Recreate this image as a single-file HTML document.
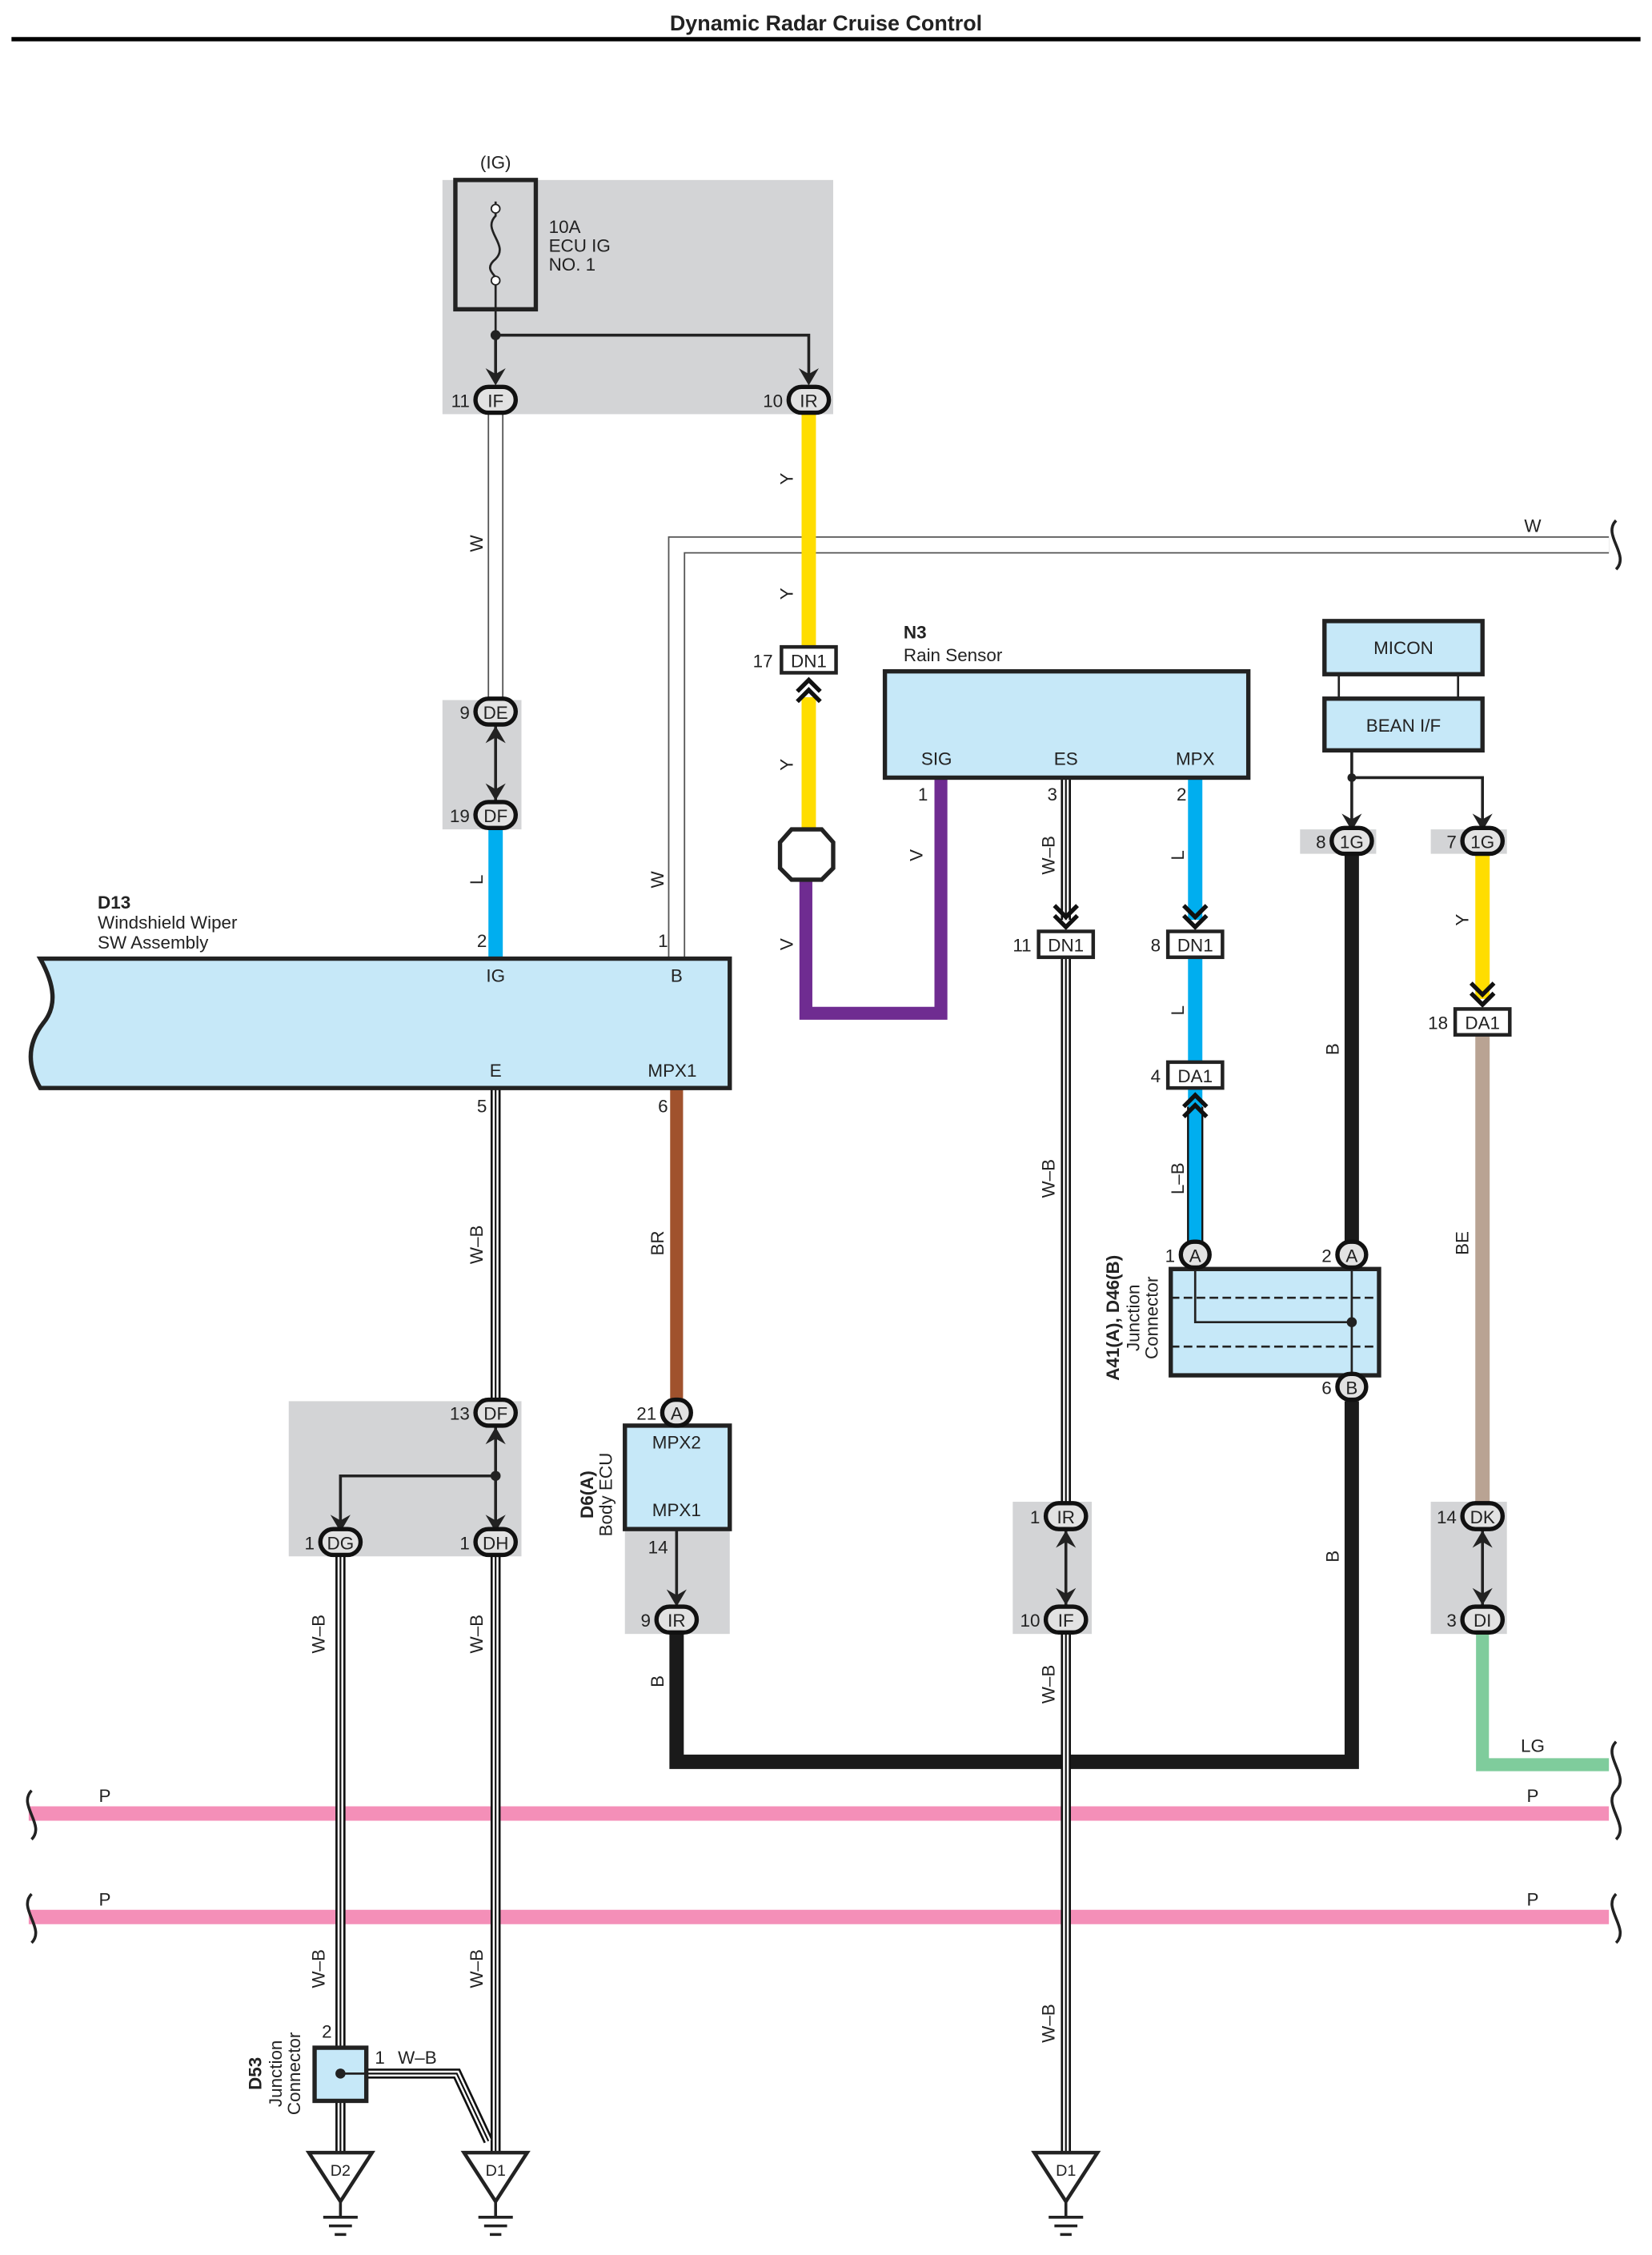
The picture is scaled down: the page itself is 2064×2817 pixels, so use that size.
<!DOCTYPE html>
<html><head><meta charset="utf-8"><style>
html,body{margin:0;padding:0;background:#fff}
svg{display:block}
text{font-family:"Liberation Sans",sans-serif;font-size:12.5px;fill:#222}
.c{text-anchor:middle}
.r{text-anchor:end}
.b{font-weight:bold}
</style></head><body>
<svg width="2064" height="2817" viewBox="0 0 1150 1569" xmlns="http://www.w3.org/2000/svg">
<defs>
<g id="dn"><path d="M-7,0 L0,-7 L7,0 M-7,-6 L0,-13 L7,-6" fill="none" stroke="#111" stroke-width="3"/></g>
</defs>
<text x="575" y="21" class="c b" style="font-size:15px">Dynamic Radar Cruise Control</text>
<line x1="8" y1="27" x2="1142" y2="27" stroke="#000" stroke-width="3"/>

<!-- gray boxes -->
<g fill="#d3d4d6">
<rect x="308" y="125" width="272" height="163"/>
<rect x="308" y="487" width="55" height="90"/>
<rect x="201" y="975" width="162" height="108"/>
<rect x="435" y="1064" width="73" height="73"/>
<rect x="705" y="1045" width="55" height="92"/>
<rect x="996" y="1045" width="53" height="92"/>
<rect x="905" y="577" width="53" height="17"/>
<rect x="996" y="577" width="53" height="17"/>
</g>

<!-- fuse -->
<text x="345" y="117" class="c">(IG)</text>
<rect x="317" y="125" width="56" height="90" fill="none" stroke="#222" stroke-width="3"/>
<path d="M345,140 V150 C335,160 355,170 345,180 C335,188 348,192 345,195 V233" fill="none" stroke="#222" stroke-width="1.5"/>
<circle cx="345" cy="145" r="3" fill="#fff" stroke="#222"/><circle cx="345" cy="195" r="3" fill="#fff" stroke="#222"/>
<text x="382" y="162">10A</text><text x="382" y="175">ECU IG</text><text x="382" y="188">NO. 1</text>
<path d="M345,233 V262 M345,233 H563 V262" fill="none" stroke="#222" stroke-width="2"/>
<circle cx="345" cy="233" r="3.5" fill="#222"/>
<path d="M338,256 L345,268 L352,256 L345,260Z M556,256 L563,268 L570,256 L563,260Z" fill="#222"/>

<!-- wires -->
<g fill="none" stroke-linejoin="miter">
<!-- W double lines -->
<path d="M345,288 V487" stroke="#555" stroke-width="11"/><path d="M345,288 V487" stroke="#fff" stroke-width="9"/>
<path d="M471,667 V379 H1120" stroke="#555" stroke-width="12"/><path d="M471,667 V379 H1120" stroke="#fff" stroke-width="10"/>
<path d="M345,577 V667" stroke="#00aeef" stroke-width="10"/>
<path d="M563,288 V450 M563,485 V578" stroke="#ffdd00" stroke-width="10"/>
<path d="M561,612 V705 H655 V541" stroke="#6f2c91" stroke-width="9"/>
<path d="M471,757 V975" stroke="#a0522d" stroke-width="9"/>
<path d="M471,1137 V1226 H941 V975 M941,595 V873" stroke="#1a1a1a" stroke-width="10"/>
<path d="M832,541 V640 M832,667 V740 M832,757 V866" stroke="#00aeef" stroke-width="10"/>
<path d="M827,770 V866 M837,770 V866" stroke="#111" stroke-width="1.3"/>
<path d="M1032,595 V695" stroke="#ffdd00" stroke-width="10"/>
<path d="M1032,721 V1045" stroke="#b9a393" stroke-width="10"/>
<path d="M1032,1137 V1228 H1120" stroke="#7fcc9c" stroke-width="9"/>
<path d="M20,1262 H1120 M20,1334 H1120" stroke="#f48fb8" stroke-width="10"/>
<!-- W-B -->
<g id="wb">
<path d="M345,757 V975 M345,1083 V1498 M237,1083 V1425 M237,1462 V1498 M742,541 V640 M742,667 V1045 M742,1137 V1498 M255,1443 H318 L340,1490" stroke="#111" stroke-width="7"/>
<path d="M345,757 V975 M345,1083 V1498 M237,1083 V1425 M237,1462 V1498 M742,541 V640 M742,667 V1045 M742,1137 V1498 M255,1443 H318 L340,1490" stroke="#fff" stroke-width="4"/>
<path d="M345,757 V975 M345,1083 V1498 M237,1083 V1425 M237,1462 V1498 M742,541 V640 M742,667 V1045 M742,1137 V1498 M255,1443 H318 L340,1490" stroke="#111" stroke-width="1.2"/>
</g>
</g>
<!-- pink redrawn over wb crossings -->
<path d="M345,1256 V1268 M237,1256 V1268 M742,1256 V1268 M345,1328 V1340 M237,1328 V1340 M742,1328 V1340" stroke="#fff" stroke-width="9" opacity="0"/>

<!-- break squiggles -->
<g fill="none" stroke="#222" stroke-width="2">
<path d="M1125,362 C1115,372 1135,386 1125,396"/>
<path d="M1125,1212 C1115,1222 1135,1236 1125,1246"/>
<path d="M1125,1246 C1115,1256 1135,1270 1125,1280"/>
<path d="M1125,1318 C1115,1328 1135,1342 1125,1352"/>
<path d="M22,1246 C12,1256 32,1270 22,1280"/>
<path d="M22,1318 C12,1328 32,1342 22,1352"/>
</g>

<!-- D13 -->
<path d="M28,667 H508 V757 H28 C18,740 20,725 30,712 C40,700 38,685 28,667Z" fill="#c6e8f8" stroke="#222" stroke-width="3"/>
<text x="68" y="632" class="b">D13</text><text x="68" y="646">Windshield Wiper</text><text x="68" y="660">SW Assembly</text>
<text x="345" y="683" class="c">IG</text><text x="471" y="683" class="c">B</text>
<text x="345" y="749" class="c">E</text><text x="468" y="749" class="c">MPX1</text>
<text x="339" y="659" class="r">2</text><text x="465" y="659" class="r">1</text>
<text x="339" y="774" class="r">5</text><text x="465" y="774" class="r">6</text>

<!-- N3 -->
<rect x="616" y="467" width="253" height="74" fill="#c6e8f8" stroke="#222" stroke-width="3"/>
<text x="629" y="444" class="b">N3</text><text x="629" y="460">Rain Sensor</text>
<text x="652" y="532" class="c">SIG</text><text x="742" y="532" class="c">ES</text><text x="832" y="532" class="c">MPX</text>
<text x="646" y="557" class="r">1</text><text x="736" y="557" class="r">3</text><text x="826" y="557" class="r">2</text>
<path d="M551,577 L572,577 L580,586 L580,604 L572,612 L551,612 L543,604 L543,586Z" fill="#fff" stroke="#222" stroke-width="3"/>

<!-- MICON / BEAN -->
<rect x="922" y="432" width="110" height="37" fill="#c6e8f8" stroke="#222" stroke-width="3"/>
<rect x="922" y="486" width="110" height="36" fill="#c6e8f8" stroke="#222" stroke-width="3"/>
<text x="977" y="455" class="c">MICON</text><text x="977" y="509" class="c">BEAN I/F</text>
<path d="M932,469 V486 M1015,469 V486" stroke="#222" stroke-width="1.5"/>
<path d="M941,522 V570 M941,541 H1032 V570" fill="none" stroke="#222" stroke-width="2"/>
<circle cx="941" cy="541" r="3" fill="#222"/>
<path d="M934,566 L941,578 L948,566 L941,570Z M1025,566 L1032,578 L1039,566 L1032,570Z" fill="#222"/>

<!-- Junction connector A41 -->
<rect x="815" y="883" width="145" height="74" fill="#c6e8f8" stroke="#222" stroke-width="3"/>
<path d="M815,903 H960 M815,937 H960" stroke="#222" stroke-width="1.5" stroke-dasharray="6,3"/>
<path d="M832,883 V920 H941 M941,883 V957" fill="none" stroke="#222" stroke-width="1.5"/>
<circle cx="941" cy="920" r="3.5" fill="#222"/>
<text transform="translate(779,917) rotate(-90)" class="c b">A41(A), D46(B)</text>
<text transform="translate(793,917) rotate(-90)" class="c">Junction</text>
<text transform="translate(806,917) rotate(-90)" class="c">Connector</text>

<!-- Body ECU -->
<rect x="435" y="992" width="73" height="72" fill="#c6e8f8" stroke="#222" stroke-width="3"/>
<text x="471" y="1008" class="c">MPX2</text><text x="471" y="1055" class="c">MPX1</text>
<text transform="translate(413,1040) rotate(-90)" class="c b">D6(A)</text>
<text transform="translate(426,1040) rotate(-90)" class="c">Body ECU</text>
<text x="465" y="1081" class="r">14</text>
<path d="M471,1064 V1112" stroke="#222" stroke-width="2"/>
<path d="M464,1106 L471,1118 L478,1106 L471,1110Z" fill="#222"/>

<!-- D53 -->
<rect x="219" y="1425" width="36" height="37" fill="#c6e8f8" stroke="#222" stroke-width="3"/>
<circle cx="237" cy="1443" r="3.5" fill="#222"/><path d="M237,1443 H255" stroke="#222" stroke-width="1.5"/>
<text transform="translate(182,1443) rotate(-90)" class="c b">D53</text>
<text transform="translate(196,1443) rotate(-90)" class="c">Junction</text>
<text transform="translate(209,1443) rotate(-90)" class="c">Connector</text>
<text x="231" y="1418" class="r">2</text><text x="261" y="1436">1</text><text x="277" y="1436">W–B</text>

<!-- DF junction -->
<path d="M345,993 V1060 M345,1027 H237 V1060" fill="none" stroke="#222" stroke-width="2"/>
<circle cx="345" cy="1027" r="3.5" fill="#222"/>
<path d="M338,1054 L345,1066 L352,1054 L345,1058Z M230,1054 L237,1066 L244,1054 L237,1058Z M338,1005 L345,993 L352,1005 L345,1001Z" fill="#222"/>
<!-- DE/DF arrows -->
<path d="M345,505 V557" stroke="#222" stroke-width="2"/>
<path d="M338,517 L345,505 L352,517 L345,513Z M338,545 L345,557 L352,545 L345,549Z" fill="#222"/>
<path d="M742,1065 V1117" stroke="#222" stroke-width="2"/>
<path d="M735,1077 L742,1065 L749,1077 L742,1073Z M735,1105 L742,1117 L749,1105 L742,1109Z" fill="#222"/>
<path d="M1032,1065 V1117" stroke="#222" stroke-width="2"/>
<path d="M1025,1077 L1032,1065 L1039,1077 L1032,1073Z M1025,1105 L1032,1117 L1039,1105 L1032,1109Z" fill="#222"/>

<!-- chevrons -->
<g fill="none" stroke="#111" stroke-width="3">
<path d="M555,481 L563,473 L571,481 M555,488 L563,480 L571,488"/>
<path d="M734,630 L742,638 L750,630 M734,637 L742,645 L750,637"/>
<path d="M824,630 L832,638 L840,630 M824,637 L832,645 L840,637"/>
<path d="M824,770 L832,762 L840,770 M824,777 L832,769 L840,777"/>
<path d="M1024,684 L1032,692 L1040,684 M1024,691 L1032,699 L1040,691"/>
</g>

<!-- rect connectors -->
<g fill="#fff" stroke="#222" stroke-width="2.5">
<rect x="544" y="450" width="38" height="18"/>
<rect x="723" y="648" width="38" height="18"/>
<rect x="813" y="648" width="38" height="18"/>
<rect x="813" y="739" width="38" height="18"/>
<rect x="1013" y="702" width="38" height="18"/>
</g>
<text x="563" y="464" class="c">DN1</text><text x="538" y="464" class="r">17</text>
<text x="742" y="662" class="c">DN1</text><text x="718" y="662" class="r">11</text>
<text x="832" y="662" class="c">DN1</text><text x="808" y="662" class="r">8</text>
<text x="832" y="753" class="c">DA1</text><text x="808" y="753" class="r">4</text>
<text x="1032" y="716" class="c">DA1</text><text x="1008" y="716" class="r">18</text>

<!-- oval connectors -->
<g fill="#e2e2e2" stroke="#111" stroke-width="3">
<rect x="331" y="269" width="28" height="18" rx="9"/>
<rect x="549" y="269" width="28" height="18" rx="9"/>
<rect x="331" y="486" width="28" height="18" rx="9"/>
<rect x="331" y="558" width="28" height="18" rx="9"/>
<rect x="331" y="974" width="28" height="18" rx="9"/>
<rect x="223" y="1064" width="28" height="18" rx="9"/>
<rect x="331" y="1064" width="28" height="18" rx="9"/>
<rect x="461" y="974" width="20" height="18" rx="9"/>
<rect x="457" y="1118" width="28" height="18" rx="9"/>
<rect x="728" y="1046" width="28" height="18" rx="9"/>
<rect x="728" y="1118" width="28" height="18" rx="9"/>
<rect x="927" y="576" width="28" height="18" rx="9"/>
<rect x="1018" y="576" width="28" height="18" rx="9"/>
<rect x="822" y="864" width="20" height="18" rx="9"/>
<rect x="931" y="864" width="20" height="18" rx="9"/>
<rect x="931" y="956" width="20" height="18" rx="9"/>
<rect x="1018" y="1046" width="28" height="18" rx="9"/>
<rect x="1018" y="1118" width="28" height="18" rx="9"/>
</g>
<g class="c">
<text x="345" y="283" class="c">IF</text><text x="563" y="283" class="c">IR</text>
<text x="345" y="500" class="c">DE</text><text x="345" y="572" class="c">DF</text>
<text x="345" y="988" class="c">DF</text><text x="237" y="1078" class="c">DG</text><text x="345" y="1078" class="c">DH</text>
<text x="471" y="988" class="c">A</text><text x="471" y="1132" class="c">IR</text>
<text x="742" y="1060" class="c">IR</text><text x="742" y="1132" class="c">IF</text>
<text x="941" y="590" class="c">1G</text><text x="1032" y="590" class="c">1G</text>
<text x="832" y="878" class="c">A</text><text x="941" y="878" class="c">A</text><text x="941" y="970" class="c">B</text>
<text x="1032" y="1060" class="c">DK</text><text x="1032" y="1132" class="c">DI</text>
</g>
<text x="327" y="283" class="r">11</text><text x="545" y="283" class="r">10</text>
<text x="327" y="500" class="r">9</text><text x="327" y="572" class="r">19</text>
<text x="327" y="988" class="r">13</text><text x="219" y="1078" class="r">1</text><text x="327" y="1078" class="r">1</text>
<text x="457" y="988" class="r">21</text><text x="453" y="1132" class="r">9</text>
<text x="724" y="1060" class="r">1</text><text x="724" y="1132" class="r">10</text>
<text x="923" y="590" class="r">8</text><text x="1014" y="590" class="r">7</text>
<text x="818" y="878" class="r">1</text><text x="927" y="878" class="r">2</text><text x="927" y="970" class="r">6</text>
<text x="1014" y="1060" class="r">14</text><text x="1014" y="1132" class="r">3</text>

<!-- grounds -->
<g fill="#fff" stroke="#222" stroke-width="2.5">
<path d="M215,1498 H259 L237,1532Z"/><path d="M323,1498 H367 L345,1532Z"/><path d="M720,1498 H764 L742,1532Z"/>
</g>
<g stroke="#222" stroke-width="2">
<path d="M237,1532 V1543 M225,1543 H249 M229,1549 H245 M233,1555 H241"/>
<path d="M345,1532 V1543 M333,1543 H357 M337,1549 H353 M341,1555 H349"/>
<path d="M742,1532 V1543 M730,1543 H754 M734,1549 H750 M738,1555 H746"/>
</g>
<text x="237" y="1514" class="c" style="font-size:11px">D2</text><text x="345" y="1514" class="c" style="font-size:11px">D1</text><text x="742" y="1514" class="c" style="font-size:11px">D1</text>

<!-- wire labels -->
<g>
<text transform="translate(336,378) rotate(-90)" class="c">W</text>
<text transform="translate(552,333) rotate(-90)" class="c">Y</text>
<text transform="translate(552,413) rotate(-90)" class="c">Y</text>
<text transform="translate(552,532) rotate(-90)" class="c">Y</text>
<text transform="translate(336,612) rotate(-90)" class="c">L</text>
<text transform="translate(462,612) rotate(-90)" class="c">W</text>
<text transform="translate(642,595) rotate(-90)" class="c">V</text>
<text transform="translate(552,657) rotate(-90)" class="c">V</text>
<text transform="translate(734,595) rotate(-90)" class="c">W–B</text>
<text transform="translate(824,595) rotate(-90)" class="c">L</text>
<text transform="translate(824,703) rotate(-90)" class="c">L</text>
<text transform="translate(824,820) rotate(-90)" class="c">L–B</text>
<text transform="translate(932,730) rotate(-90)" class="c">B</text>
<text transform="translate(1022,640) rotate(-90)" class="c">Y</text>
<text transform="translate(1022,865) rotate(-90)" class="c">BE</text>
<text transform="translate(336,866) rotate(-90)" class="c">W–B</text>
<text transform="translate(462,865) rotate(-90)" class="c">BR</text>
<text transform="translate(734,820) rotate(-90)" class="c">W–B</text>
<text transform="translate(226,1137) rotate(-90)" class="c">W–B</text>
<text transform="translate(336,1137) rotate(-90)" class="c">W–B</text>
<text transform="translate(462,1170) rotate(-90)" class="c">B</text>
<text transform="translate(734,1172) rotate(-90)" class="c">W–B</text>
<text transform="translate(932,1083) rotate(-90)" class="c">B</text>
<text transform="translate(226,1370) rotate(-90)" class="c">W–B</text>
<text transform="translate(336,1370) rotate(-90)" class="c">W–B</text>
<text transform="translate(734,1408) rotate(-90)" class="c">W–B</text>
<text x="1067" y="370" class="c">W</text>
<text x="1067" y="1219" class="c">LG</text>
<text x="73" y="1254" class="c">P</text><text x="1067" y="1254" class="c">P</text>
<text x="73" y="1326" class="c">P</text><text x="1067" y="1326" class="c">P</text>
</g>
</svg>
</body></html>
